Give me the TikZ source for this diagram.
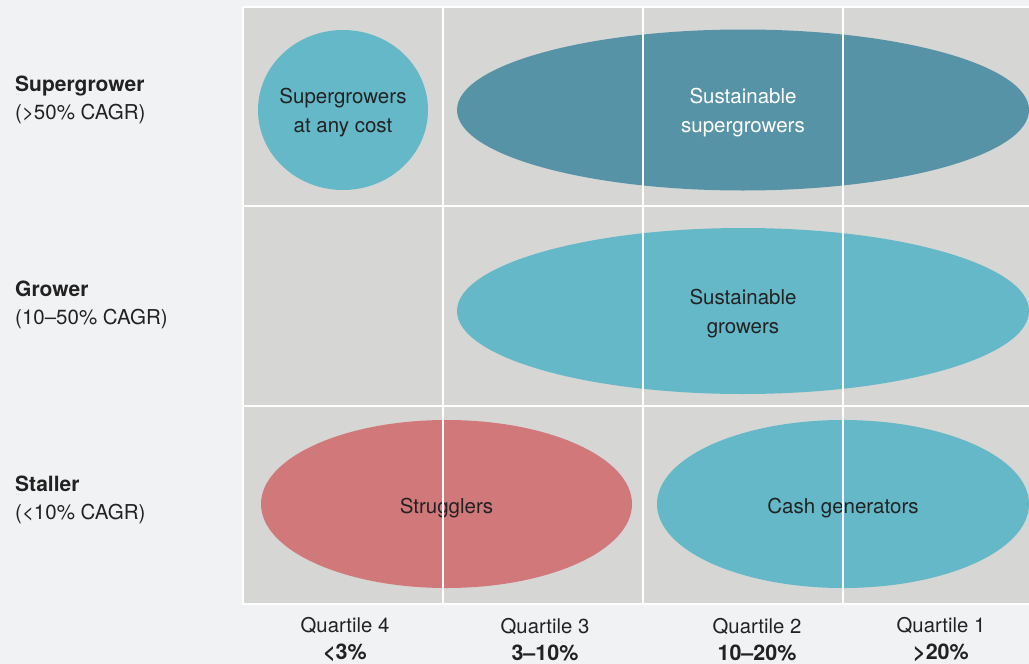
\documentclass[tikz,border=0pt]{standalone}
\usepackage{fontspec}
\setmainfont{TeX Gyre Heros}
\usetikzlibrary{shapes.geometric}

\definecolor{pagebg}{HTML}{F1F2F4}
\definecolor{cellgray}{HTML}{D6D6D4}
\definecolor{lightteal}{HTML}{64B8C8}
\definecolor{darkteal}{HTML}{5793A7}
\definecolor{rosered}{HTML}{D1787B}
\definecolor{ink}{HTML}{222222}

\tikzset{
  blob/.style={ellipse, inner sep=0pt},
  blobtext/.style={inner sep=0pt, text=ink, align=center,
    font=\fontsize{20.5}{29}\selectfont},
  rowlab/.style={anchor=west, inner sep=0pt, align=left, text=ink,
    font=\fontsize{20.5}{28}\selectfont},
  collab/.style={align=center, text=ink,
    font=\fontsize{20.3}{27}\selectfont},
  gridline/.style={white, line width=2.6pt}
}

\begin{document}
\begin{tikzpicture}[x=1pt, y=-1pt]
  \fill [pagebg] (0,0) rectangle (1029,664);
  \useasboundingbox (0,0) rectangle (1029,664);
  \fill [cellgray] (243,7) rectangle (1029,605);

  % the five groups
  \node [blob, fill=lightteal, minimum width=170, minimum height=160]
    (anycost) at (343,110) {};
  \node [blob, fill=darkteal, minimum width=572, minimum height=161]
    (susuper) at (743,110) {};
  \node [blob, fill=lightteal, minimum width=572, minimum height=166]
    (susgrow) at (743,311) {};
  \node [blob, fill=rosered, minimum width=371, minimum height=168]
    (struggle) at (446.5,504) {};
  \node [blob, fill=lightteal, minimum width=372, minimum height=168]
    (cashgen) at (843,504) {};

  \node [blobtext] (anycost-t) at ([yshift=-3pt]anycost.center) {Supergrowers\\at any cost};
  \node [blobtext, text=white] (susuper-t) at ([yshift=-3pt]susuper.center) {Sustainable\\supergrowers};
  \node [blobtext] (susgrow-t) at ([yshift=-3pt]susgrow.center) {Sustainable\\growers};
  \node [blobtext] (struggle-t) at ([yshift=-4pt]struggle.center) {Strugglers};
  \node [blobtext] (cashgen-t) at ([yshift=-4pt]cashgen.center) {Cash generators};

  % white grid over everything
  \foreach \x in {243,443,643,843}
    \draw [gridline] (\x,7) -- (\x,605);
  \foreach \y in {7,206,406,604}
    \draw [gridline] (243,\y) -- (1029,\y);

  % growth rows
  \node [rowlab] (superrow) at (15,100) {{\fontsize{21}{28}\selectfont\bfseries Supergrower}\\(>50\% CAGR)};
  \node [rowlab] (growrow) at (15,305) {{\fontsize{21}{28}\selectfont\bfseries Grower}\\(10--50\% CAGR)};
  \node [rowlab] (stallrow) at (15,500) {{\fontsize{21}{28}\selectfont\bfseries Staller}\\(<10\% CAGR)};

  % margin quartiles
  \foreach \x/\q/\r [count=\i] in {345/4/<3\%, 545/3/3--10\%, 757/2/10--20\%, 941/1/>20\%}
    \node [collab] (quart\i) at (\x,640) {Quartile \q\\{\fontsize{21.5}{27}\selectfont\bfseries\r}};
\end{tikzpicture}
\end{document}
